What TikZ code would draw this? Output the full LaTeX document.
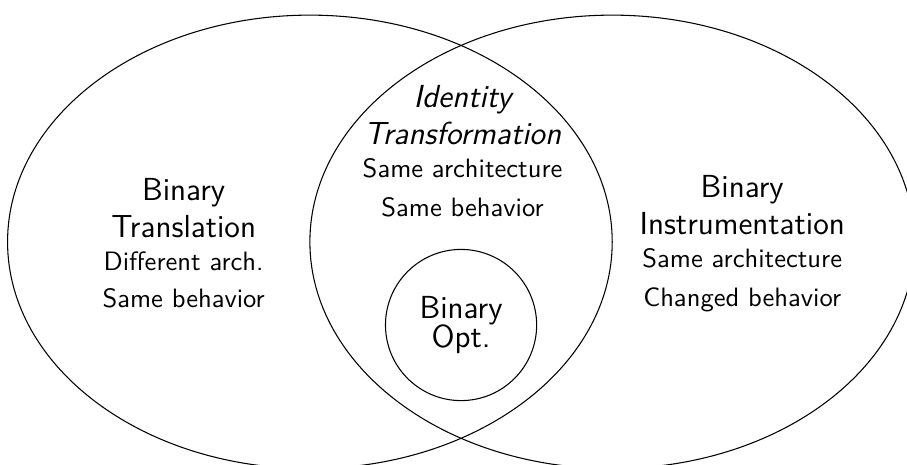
\documentclass[tikz,border=0pt]{standalone}
\usetikzlibrary{positioning}
\tikzset{
	region/.style={draw=black},
	setname/.style={font=\sffamily\large, align=center, inner sep=0pt, anchor=south},
	setnote/.style={font=\sffamily, align=center, inner sep=0pt}
}
\begin{document}
\begin{tikzpicture}
	\clip (-4.1,-2.94) rectangle (7.9,3.2);
	% the two overlapping sets
	\draw[region] (0,0) ellipse (4 and 3);
	\draw[region] (4,0) ellipse (4 and 3);
	% optimisation lives inside the lens
	\node[region, circle, minimum size=2cm, inner sep=0pt, font=\sffamily\large, align=center] (opt) at (2,-1.1) {Binary\\[-3pt]Opt.};
	\node[setname] (bt) at (-1.67,0.05) {Binary\\Translation};
	\node[setnote, below=5pt of bt] (btd) {Different arch.\\[2pt]Same behavior};
	\node[setname, font=\sffamily\large\itshape] (it) at (2.02,1.28) {Identity\\Transformation};
	\node[setnote, below=5pt of it] (itd) {Same architecture\\[2.5pt]Same behavior};
	\node[setname] (bi) at (5.72,0.09) {Binary\\Instrumentation};
	\node[setnote, below=5pt of bi] (bid) {Same architecture\\[2.5pt]Changed behavior};
\end{tikzpicture}
\end{document}
